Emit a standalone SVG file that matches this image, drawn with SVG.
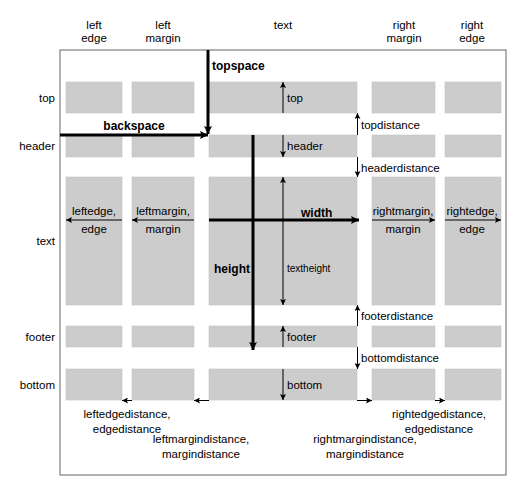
<svg xmlns="http://www.w3.org/2000/svg" width="525" height="494" viewBox="0 0 525 494">
<style>
text{font-family:"Liberation Sans",Arial,sans-serif;font-size:11.5px;fill:#000}
.b{font-weight:bold;font-size:12px}
.m{text-anchor:middle}
.e{text-anchor:end}
.s{font-size:10px}
.box{fill:#cccccc;stroke:#c2c2c2;stroke-width:0.6}
.thin{stroke:#000;stroke-width:1;fill:none;marker-end:url(#ah)}
.thick{stroke:#000;stroke-width:3;fill:none;marker-end:url(#ahb)}
.dbl{stroke:#000;stroke-width:1;fill:none;marker-end:url(#ah);marker-start:url(#ahs)}
</style>
<defs>
<marker id="ah" viewBox="0 0 10 10" refX="10" refY="5" markerWidth="7" markerHeight="6" markerUnits="userSpaceOnUse" orient="auto"><path d="M0,0 L10,5 L0,10 L2,5 z" fill="#000"/></marker>
<marker id="ahs" viewBox="0 0 10 10" refX="0" refY="5" markerWidth="7" markerHeight="6" markerUnits="userSpaceOnUse" orient="auto"><path d="M10,0 L0,5 L10,10 L8,5 z" fill="#000"/></marker>
<marker id="ahb" viewBox="0 0 10 10" refX="10" refY="5" markerWidth="9" markerHeight="8" markerUnits="userSpaceOnUse" orient="auto"><path d="M0,0 L10,5 L0,10 L2,5 z" fill="#000"/></marker>
</defs>
<rect width="525" height="494" fill="#fff"/>
<g id="frame"><rect x="60" y="50" width="446" height="425" fill="none" stroke="#666" stroke-width="1"/></g>
<g id="column-labels">
<text class="m" x="94" y="29">left</text><text class="m" x="94" y="42">edge</text>
<text class="m" x="163" y="29">left</text><text class="m" x="163" y="42">margin</text>
<text class="m" x="283" y="29">text</text>
<text class="m" x="404" y="29">right</text><text class="m" x="404" y="42">margin</text>
<text class="m" x="472" y="29">right</text><text class="m" x="472" y="42">edge</text>
</g>
<g id="row-labels">
<text class="e" x="55" y="102">top</text>
<text class="e" x="55" y="150">header</text>
<text class="e" x="55" y="245">text</text>
<text class="e" x="55" y="341">footer</text>
<text class="e" x="55" y="389">bottom</text>
</g>
<g id="boxes">
<g id="top-row">
<rect class="box" x="66" y="82" width="56" height="31"/>
<rect class="box" x="132" y="82" width="62" height="31"/>
<rect class="box" x="209" y="82" width="148" height="31"/>
<rect class="box" x="372" y="82" width="63" height="31"/>
<rect class="box" x="445" y="82" width="56" height="31"/>
</g>
<g id="header-row">
<rect class="box" x="66" y="135" width="56" height="22"/>
<rect class="box" x="132" y="135" width="62" height="22"/>
<rect class="box" x="209" y="135" width="148" height="22"/>
<rect class="box" x="372" y="135" width="63" height="22"/>
<rect class="box" x="445" y="135" width="56" height="22"/>
</g>
<g id="text-row">
<rect class="box" x="66" y="177" width="56" height="128"/>
<rect class="box" x="132" y="177" width="62" height="128"/>
<rect class="box" x="209" y="177" width="148" height="128"/>
<rect class="box" x="372" y="177" width="63" height="128"/>
<rect class="box" x="445" y="177" width="56" height="128"/>
</g>
<g id="footer-row">
<rect class="box" x="66" y="326" width="56" height="21"/>
<rect class="box" x="132" y="326" width="62" height="21"/>
<rect class="box" x="209" y="326" width="148" height="21"/>
<rect class="box" x="372" y="326" width="63" height="21"/>
<rect class="box" x="445" y="326" width="56" height="21"/>
</g>
<g id="bottom-row">
<rect class="box" x="66" y="369" width="56" height="31"/>
<rect class="box" x="132" y="369" width="62" height="31"/>
<rect class="box" x="209" y="369" width="148" height="31"/>
<rect class="box" x="372" y="369" width="63" height="31"/>
<rect class="box" x="445" y="369" width="56" height="31"/>
</g>
</g>
<g id="connectors">
<line class="thick" x1="208" y1="50" x2="208" y2="134"/>
<line class="thick" x1="60" y1="135" x2="208" y2="135"/>
<line class="thick" x1="253" y1="135" x2="253" y2="350"/>
<line class="thick" x1="209" y1="220" x2="359" y2="220"/>
<line class="thin" x1="283" y1="113" x2="283" y2="82"/>
<line class="thin" x1="283" y1="135" x2="283" y2="157"/>
<line class="dbl" x1="283" y1="177" x2="283" y2="305"/>
<line class="thin" x1="283" y1="347" x2="283" y2="326"/>
<line class="thin" x1="283" y1="369" x2="283" y2="400"/>
<line class="thin" x1="357.5" y1="135" x2="357.5" y2="113"/>
<line class="thin" x1="357.5" y1="157" x2="357.5" y2="177"/>
<line class="thin" x1="357.5" y1="326" x2="357.5" y2="305"/>
<line class="thin" x1="357.5" y1="347" x2="357.5" y2="369"/>
<line class="thin" x1="122" y1="220" x2="66" y2="220"/>
<line class="thin" x1="194" y1="220" x2="132" y2="220"/>
<line class="thin" x1="372" y1="220" x2="435" y2="220"/>
<line class="thin" x1="445" y1="220" x2="501" y2="220"/>
<line class="thin" x1="132" y1="400.5" x2="122" y2="400.5"/>
<line class="thin" x1="209" y1="400.5" x2="194" y2="400.5"/>
<line class="thin" x1="357" y1="400.5" x2="372" y2="400.5"/>
<line class="thin" x1="435" y1="400.5" x2="445" y2="400.5"/>
</g>
<g id="labels">
<text class="b" x="212" y="70">topspace</text>
<text class="b m" x="134" y="130">backspace</text>
<text class="b" x="301" y="217">width</text>
<text class="b" x="214" y="273">height</text>
<text x="287" y="102">top</text>
<text x="287" y="150">header</text>
<text class="s" x="287" y="272">textheight</text>
<text x="287" y="341">footer</text>
<text x="287" y="389">bottom</text>
<text x="361" y="129">topdistance</text>
<text x="361" y="172">headerdistance</text>
<text x="361" y="320">footerdistance</text>
<text x="361" y="362">bottomdistance</text>
<text class="m" x="94" y="215">leftedge,</text><text class="m" x="94" y="233">edge</text>
<text class="m" x="163" y="215">leftmargin,</text><text class="m" x="163" y="233">margin</text>
<text class="m" x="403" y="215">rightmargin,</text><text class="m" x="403" y="233">margin</text>
<text class="m" x="472" y="215">rightedge,</text><text class="m" x="472" y="233">edge</text>
<text class="m" x="127" y="418">leftedgedistance,</text><text class="m" x="127" y="433">edgedistance</text>
<text class="m" x="201" y="443">leftmargindistance,</text><text class="m" x="201" y="458">margindistance</text>
<text class="m" x="439" y="418">rightedgedistance,</text><text class="m" x="439" y="433">edgedistance</text>
<text class="m" x="365" y="443">rightmargindistance,</text><text class="m" x="365" y="458">margindistance</text>
</g>
</svg>
